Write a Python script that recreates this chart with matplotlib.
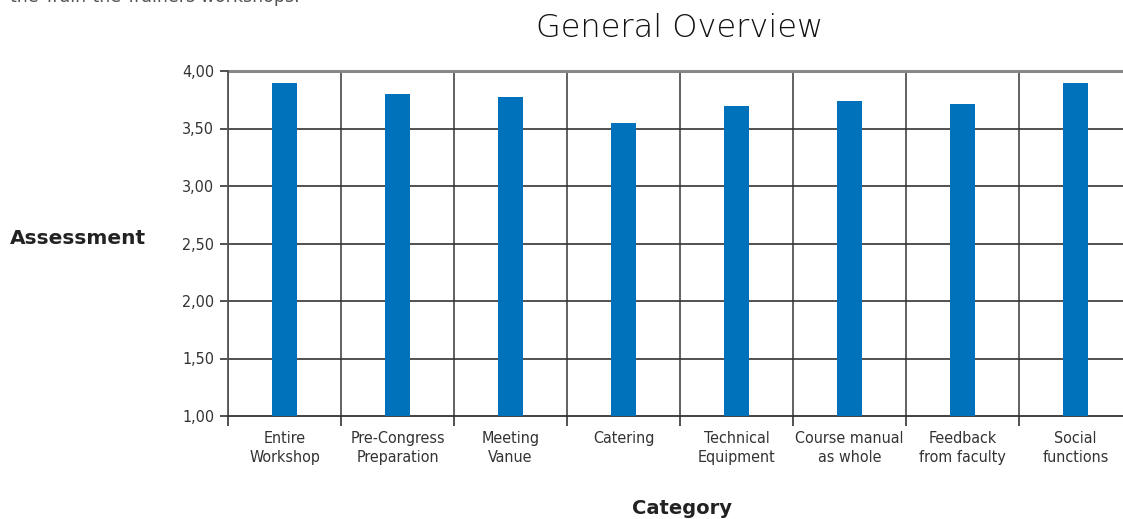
import matplotlib
matplotlib.use("Agg")
import matplotlib.pyplot as plt
import numpy as np

categories = ["Entire\nWorkshop", "Pre-Congress\nPreparation", "Meeting\nVanue", "Catering",
              "Technical\nEquipment", "Course manual\nas whole", "Feedback\nfrom faculty", "Social\nfunctions"]
values = [3.90, 3.80, 3.77, 3.55, 3.70, 3.74, 3.71, 3.90]
yticks = [1.00, 1.50, 2.00, 2.50, 3.00, 3.50, 4.00]
ytick_labels = ["1,00", "1,50", "2,00", "2,50", "3,00", "3,50", "4,00"]

W, H = 1123, 519
fig = plt.figure(figsize=(W / 100, H / 100), dpi=100)
left, right, top, bottom = 228, 1132, 71, 416
ax = fig.add_axes([left / W, 1 - bottom / H, (right - left) / W, (bottom - top) / H])

tick_font = dict(family="DejaVu Sans", stretch="condensed", size=11.5)
x = np.arange(len(categories))
ax.bar(x, [v - 1.0 for v in values], bottom=1.0, width=0.22, color="#0072bc", zorder=3)

ax.set_xlim(-0.5, len(categories) - 0.5)
ax.set_ylim(1.0, 4.0)
ax.set_yticks(yticks)
ax.set_yticklabels(ytick_labels, fontdict=tick_font, color="#333333")
ax.set_xticks(x)
ax.set_xticklabels(categories, fontdict=tick_font, color="#333333", linespacing=1.35)
ax.tick_params(axis="x", length=0, pad=10.5)
ax.tick_params(axis="y", length=6, color="#333333", width=1.2, pad=4)

bounds = np.arange(-0.5, len(categories) + 0.5, 1.0)
ax.set_xticks(bounds, minor=True)
ax.tick_params(axis="x", which="minor", length=7, color="#333333", width=1.2)
for b in bounds:
    ax.axvline(b, color="#555555", lw=1.3, zorder=1)
for t in yticks[1:-1]:
    ax.axhline(t, color="#333333", lw=1.2, zorder=1)
ax.axhline(4.0, color="#888888", lw=2.2, zorder=1, clip_on=False)

for s in ["top", "right"]:
    ax.spines[s].set_visible(False)
ax.spines["left"].set_color("#555555")
ax.spines["left"].set_linewidth(1.3)
ax.spines["bottom"].set_color("#333333")
ax.spines["bottom"].set_linewidth(1.3)

fig.text(680 / W, 1 - 28 / H, "General Overview", ha="center", va="center",
         fontsize=23, color="#111111", fontfamily="DejaVu Sans", fontweight="light")
fig.text(10 / W, 1 - 238 / H, "Assessment", ha="left", va="center",
         fontsize=14.5, color="#222222", fontfamily="DejaVu Sans", fontweight="bold")
fig.text(682 / W, 1 - 508 / H, "Category", ha="center", va="center",
         fontsize=14, color="#222222", fontfamily="DejaVu Sans", fontweight="bold")
fig.text(10 / W, 1 - 2.5 / H, "the Train-the-Trainers workshops.", ha="left", va="baseline",
         fontsize=12.5, color="#555555", fontfamily="DejaVu Sans")

fig.savefig("out.png", dpi=100)
